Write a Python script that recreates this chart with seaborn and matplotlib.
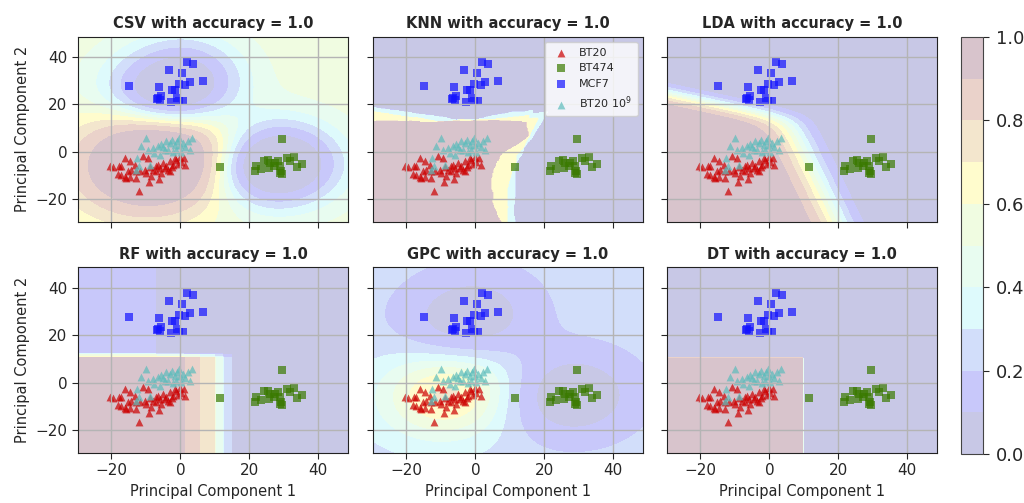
import numpy as np
import matplotlib
matplotlib.use("Agg")
import matplotlib.pyplot as plt
from matplotlib.colors import ListedColormap
import seaborn as sns

# PCA scores
bt20_x = [-20.3, -19.5, -17.8, -17.1, -18.1, -17.3, -15.7, -14.5, -12.8, -12.0, -9.1, -6.2,
          -16.1, -14.7, -14.2, -13.2, -11.8, -10.3, -8.9, -7.9, -7.0, -6.0, -5.0, -4.1,
          -3.1, -2.1, -1.2, -0.2, 1.0, 1.5, -10.8, -9.4, -7.0, -12.8, -15.2, -1.6, -3.6,
          -5.5, -8.4, -10.0, -16.1, -4.5, -2.5, -0.8, -6.5, -3.0, 0.2]
bt20_y = [-6.2, -6.5, -6.2, -5.9, -9.5, -10.0, -11.2, -10.5, -11.2, -16.4, -12.9, -11.6,
          -2.7, -4.1, -7.6, -5.5, -8.3, -7.6, -6.5, -7.6, -6.2, -6.9, -4.8, -6.2,
          -4.1, -5.5, -3.4, -2.3, -2.7, -5.5, -2.0, -2.7, -8.3, -8.3, -8.3, -2.7, -7.6,
          -9.0, -10.2, -9.0, -10.5, -7.0, -6.5, -5.0, -5.5, -8.0, -4.2]
bt474_x = [11.4, 29.4, 22.0, 21.8, 24.2, 25.4, 26.1, 25.7, 27.6, 28.8, 29.3, 29.6, 28.8,
           30.9, 31.7, 32.9, 33.8, 35.4, 27.3, 28.3, 23.5]
bt474_y = [-6.6, 5.4, -5.9, -8.3, -3.7, -3.4, -4.8, -6.9, -4.8, -5.9, -8.3, -9.5, -9.0,
           -2.7, -4.1, -2.3, -6.6, -5.2, -6.2, -4.1, -7.3]
mcf7_x = [-14.9, -3.3, 2.0, 3.7, 0.6, 2.7, 1.5, 6.6, -6.2, -0.5, -2.3, -1.6, -6.4, -6.0,
          -1.0, -2.8, 0.8, -0.5, -6.8, -5.7]
mcf7_y = [27.7, 34.7, 38.1, 37.1, 33.3, 29.4, 28.4, 29.8, 27.4, 28.8, 26.1, 26.1, 22.9, 22.0,
          22.6, 21.0, 21.3, 21.6, 22.3, 23.6]
bt20e9_x = [-9.9, -11.3, -9.4, -7.9, -6.5, -5.5, -4.5, -4.1, -3.1, -2.3, -1.6, -1.0, -0.2,
            0.8, 1.5, 2.2, 3.5, 2.7, 0.3, -2.1, -3.6, -6.0, -7.5, -12.6, -12.9, -12.0,
            -8.9, -1.2, -5.0, -0.4]
bt20e9_y = [5.8, 2.3, 0.8, 1.6, 2.5, 3.4, 0.8, 4.4, 3.7, 5.1, 3.0, 4.4, 3.0, 3.7, 2.0, 4.4,
            5.8, 0.8, 0.1, -0.3, 0.6, -1.3, -0.6, -2.7, -7.6, -6.2, -5.5, 0.6, 2.0, 5.8]

class_names = ["BT20", "BT474", "MCF7", "BT20 $10^9$"]
models = ["CSV", "KNN", "LDA", "RF", "GPC", "DT"]
accuracies = [1.0, 1.0, 1.0, 1.0, 1.0, 1.0]

# model settings
rf_split_x = [1.0] * 3 + [5.6] * 2 + [10.0] * 5 + [12.4] * 4 + [14.8] * 5 + [49.0]
rf_split_y = [10.7, 12.0] * 10
dt_split = (9.7, 10.5)
lda_cov = [[130.0, -29.5], [-29.5, 73.0]]
lda_priors = [0.55, 0.40, 0.05]   # BT20 group, BT474, MCF7

sns.set_style("ticks")
plt.rcParams["axes.axisbelow"] = "line"
plt.rcParams["font.family"] = ["DejaVu Sans"]

band_colors = ["#c8c8e6", "#c8c8fa", "#d2defa", "#defafc", "#e8fcf0",
               "#f0fce1", "#fffccd", "#f3e6cd", "#ead2ca", "#d8c4cc"]
cmap = ListedColormap(band_colors)
levels = np.linspace(0, 1, 11)
levels[0], levels[-1] = -0.001, 1.001

lo, hi = -29.7, 48.7
g = np.linspace(lo, hi, 300)
XX, YY = np.meshgrid(g, g)

cls = [(np.array(bt20_x), np.array(bt20_y)), (np.array(bt474_x), np.array(bt474_y)),
       (np.array(mcf7_x), np.array(mcf7_y)), (np.array(bt20e9_x), np.array(bt20e9_y))]


def kmean(px, py, s):
    d2 = (XX[..., None] - px) ** 2 + (YY[..., None] - py) ** 2
    return np.exp(-d2 / (2 * s * s)).mean(-1)


def sigmoid(z):
    return 1 / (1 + np.exp(-z))


# BT20 group (BT20 + BT20 10^9) against the rest
pos_x = np.concatenate([cls[0][0], cls[3][0]])
pos_y = np.concatenate([cls[0][1], cls[3][1]])
all_x = np.concatenate([c[0] for c in cls])
all_y = np.concatenate([c[1] for c in cls])
lab = np.concatenate([np.ones(len(bt20_x)), np.zeros(len(bt474_x)),
                      np.zeros(len(mcf7_x)), np.ones(len(bt20e9_x))])

k_pos = kmean(pos_x, pos_y, 13)
k_neg = kmean(cls[1][0], cls[1][1], 12) + kmean(cls[2][0], cls[2][1], 12)
k_neg_narrow = kmean(cls[1][0], cls[1][1], 9) + kmean(cls[2][0], cls[2][1], 9)

surfaces = {}
surfaces["CSV"] = sigmoid(0.2 + 6.0 * k_pos - 3.0 * k_neg - 2.5 * k_neg_narrow)

# KNN, k = 3
d2 = (XX[..., None] - all_x) ** 2 + (YY[..., None] - all_y) ** 2
idx = np.argpartition(d2, 3, axis=-1)[..., :3]
surfaces["KNN"] = lab[idx].mean(-1)

# LDA with shared covariance
groups = [np.column_stack([pos_x, pos_y]), np.column_stack(cls[1]), np.column_stack(cls[2])]
Si = np.linalg.inv(np.array(lda_cov))
G = np.stack([XX, YY], -1)
sc = np.stack([G @ Si @ p.mean(0) - 0.5 * p.mean(0) @ Si @ p.mean(0) + np.log(pr)
               for p, pr in zip(groups, lda_priors)])
sc -= sc.max(0)
surfaces["LDA"] = np.exp(sc[0]) / np.exp(sc).sum(0)

# RF: average of small trees
rf = np.zeros_like(XX)
for tx, ty in zip(rf_split_x, rf_split_y):
    rf += np.where(YY < ty, (XX < tx) * 1.0, (XX < -7) * 0.15)
surfaces["RF"] = rf / len(rf_split_x)

# GPC
surfaces["GPC"] = sigmoid(-1.1 + 2.6 * k_pos - 2.3 * k_neg)

# DT
surfaces["DT"] = ((XX < dt_split[0]) & (YY < dt_split[1])).astype(float)

styles = [("#cc0000", "^", 32), ("#3a7a00", "s", 26), ("#1414ff", "s", 26), ("#5cbcbc", "^", 32)]

fig = plt.figure(figsize=(10.24, 5.03), dpi=100)
lefts = [0.0762, 0.3643, 0.6514]
bottoms = [0.5586, 0.0994]
w, h = 0.2637, 0.3688

for i, name in enumerate(models):
    r, c = divmod(i, 3)
    ax = fig.add_axes([lefts[c], bottoms[r], w, h])
    cf = ax.contourf(XX, YY, np.clip(surfaces[name], 0, 1), levels=levels, cmap=cmap)
    for (px, py), (col, mk, s), lbl in zip(cls, styles, class_names):
        sns.scatterplot(x=px, y=py, color=col, marker=mk, s=s, alpha=0.7,
                        linewidth=0, label=lbl, ax=ax)
    ax.set_xlim(lo, hi)
    ax.set_ylim(lo, hi)
    ax.set_xticks([-20, 0, 20, 40])
    ax.set_yticks([-20, 0, 20, 40])
    ax.grid(True, color="#b4b4b4", lw=1)
    ax.tick_params(labelsize=11, length=4)
    ax.set_title(f"{name} with accuracy = {accuracies[i]}", fontsize=10.5,
                 fontweight="bold")
    if r == 0:
        ax.set_xticklabels([])
    else:
        ax.set_xlabel("Principal Component 1", fontsize=10.5)
    if c == 0:
        ax.set_ylabel("Principal Component 2", fontsize=10.5)
    else:
        ax.set_yticklabels([])
    if name == "KNN":
        ax.legend(loc="upper right", fontsize=8, framealpha=0.8, handletextpad=0.6,
                  borderpad=0.5)
    elif ax.get_legend() is not None:
        ax.get_legend().remove()
    for sp in ax.spines.values():
        sp.set_color("#222222")

cax = fig.add_axes([0.9385, 0.0974, 0.0215, 0.829])
cb = fig.colorbar(cf, cax=cax, ticks=[0, 0.2, 0.4, 0.6, 0.8, 1.0])
cb.ax.set_yticklabels(["0.0", "0.2", "0.4", "0.6", "0.8", "1.0"])
cb.ax.tick_params(labelsize=13, length=4, pad=5)
cb.outline.set_edgecolor("#444444")

fig.savefig("out.png", dpi=100)
